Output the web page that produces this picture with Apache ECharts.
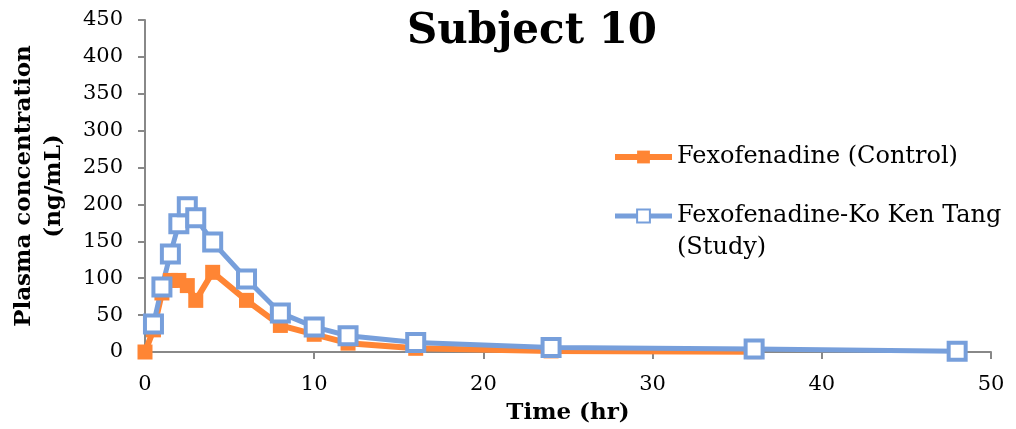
<!DOCTYPE html>
<html lang="en">
<head>
  <meta charset="UTF-8">
  <title>Subject 10</title>
  <script src="https://cdn.jsdelivr.net/npm/echarts@6/dist/echarts.min.js"></script>
</head>
<body style="margin:0">
  <div id="chart" style="width:1016px;height:429px"></div>
  <script>
    // data
    const controlTime = [0, 0.5, 1, 1.5, 2, 2.5, 3, 4, 6, 8, 10, 12, 16, 24, 36]
    const controlConc = [0, 30, 80, 97, 97, 90, 70, 108, 70, 36, 24, 12, 5, 1.5, 0.5]
    const studyTime = [0.5, 1, 1.5, 2, 2.5, 3, 4, 6, 8, 10, 12, 16, 24, 36, 48]
    const studyConc = [38, 88, 133, 174, 197, 182, 149, 99, 53, 34, 22, 13, 6, 4, 1]

    const orange = '#ff8534'
    const blue = '#779fdb'
    const font = 'DejaVu Serif'
    const controlName = 'Fexofenadine (Control)'
    const studyName = 'Fexofenadine-Ko Ken Tang'

    const toPairs = (xs, ys) => xs.map((x, i) => [x, ys[i]])

    const myChart = echarts.init(document.getElementById('chart'))
    const option = {
      animation: false,
      textStyle: { fontFamily: font, color: '#000' },
      title: {
        text: 'Subject 10',
        left: 527,
        top: 6,
        textAlign: 'center',
        textStyle: { fontFamily: font, fontSize: 42, fontWeight: 'bold', color: '#000' }
      },
      legend: {
        orient: 'vertical',
        left: 612,
        top: 139,
        padding: 0,
        itemWidth: 57,
        itemHeight: 16,
        itemGap: 23,
        textStyle: { fontFamily: font, fontSize: 24, color: '#000', lineHeight: 36 },
        data: [
          { name: controlName, lineStyle: { width: 6 } },
          { name: studyName, lineStyle: { width: 5 } }
        ]
      },
      // second line of the study legend entry
      graphic: [{
        type: 'text',
        left: 677,
        top: 236,
        style: { text: '(Study)', fontFamily: font, fontSize: 24, fill: '#000' }
      }],
      grid: { left: 145, right: 25, top: 20, bottom: 77, outerBoundsMode: 'none' },
      xAxis: {
        type: 'value',
        min: 0,
        max: 50,
        interval: 10,
        name: 'Time (hr)',
        nameLocation: 'middle',
        nameGap: 50,
        nameTextStyle: { fontFamily: font, fontSize: 23, fontWeight: 'bold', color: '#000' },
        axisLine: { lineStyle: { color: '#888', width: 2 } },
        axisTick: { show: true, length: 7, lineStyle: { color: '#888', width: 2 } },
        axisLabel: { fontFamily: font, fontSize: 21, color: '#000', margin: 22 },
        splitLine: { show: false }
      },
      yAxis: {
        type: 'value',
        min: 0,
        max: 450,
        interval: 50,
        name: 'Plasma concentration\n(ng/mL)',
        nameLocation: 'middle',
        nameGap: 76,
        nameTextStyle: { fontFamily: font, fontSize: 23, fontWeight: 'bold', color: '#000', lineHeight: 30 },
        axisLine: { show: true, lineStyle: { color: '#888', width: 2 } },
        axisTick: { show: true, length: 7, lineStyle: { color: '#888', width: 2 } },
        axisLabel: { fontFamily: font, fontSize: 21, color: '#000', margin: 22 },
        splitLine: { show: false }
      },
      series: [
        {
          name: controlName,
          type: 'line',
          data: toPairs(controlTime, controlConc),
          symbol: 'rect',
          symbolSize: 15,
          lineStyle: { color: orange, width: 6 },
          itemStyle: { color: orange }
        },
        {
          name: studyName,
          type: 'line',
          data: toPairs(studyTime, studyConc),
          symbol: 'rect',
          symbolSize: 17,
          lineStyle: { color: blue, width: 5 },
          itemStyle: { color: '#fff', borderColor: blue, borderWidth: 4 }
        }
      ]
    }
    myChart.setOption(option)
  </script>
</body>
</html>
